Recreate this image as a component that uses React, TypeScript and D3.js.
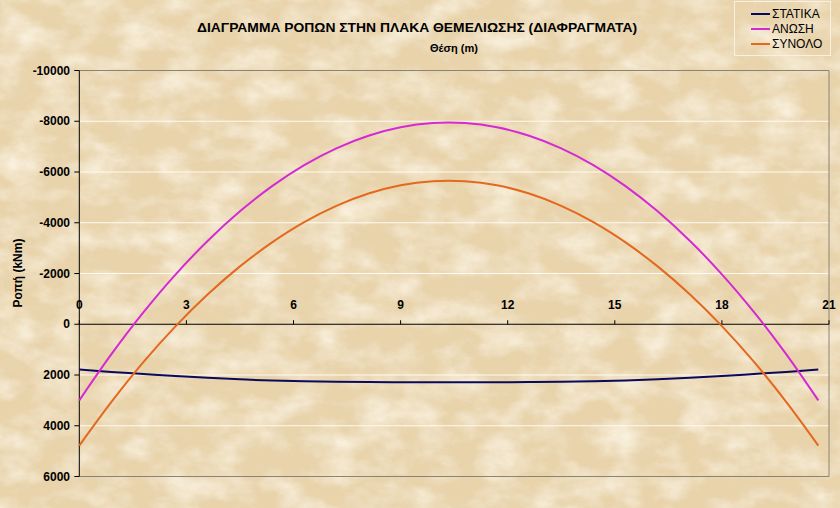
import React from "react";
import * as d3 from "d3";

const positions = [0, 0.9, 1.8, 2.7, 3.6, 4.5, 5.4, 6.3, 7.2, 8.1, 9.0, 9.9, 10.8, 11.7, 12.6, 13.5, 14.4, 15.3, 16.2, 17.1, 18.0, 18.9, 19.8, 20.7];
const statika = [1780, 1880, 1960, 2040, 2110, 2170, 2220, 2250, 2270, 2280, 2285, 2290, 2290, 2285, 2280, 2270, 2250, 2220, 2170, 2110, 2040, 1960, 1880, 1780];
const anosi = [3000, 1179, -477, -1967, -3291, -4450, -5444, -6272, -6934, -7430, -7762, -7927, -7927, -7762, -7430, -6934, -6272, -5444, -4450, -3291, -1967, -477, 1179, 3000];
const synolo = [4780, 3059, 1483, 73, -1181, -2280, -3224, -4022, -4664, -5150, -5477, -5637, -5637, -5477, -5150, -4664, -4022, -3224, -2280, -1181, 73, 1483, 3059, 4780];
const seriesNames = ["ΣΤΑΤΙΚΑ", "ΑΝΩΣΗ", "ΣΥΝΟΛΟ"];
const seriesColors = ["#0a0a5c", "#d42ad4", "#e2691e"];
const xTicks = [0, 3, 6, 9, 12, 15, 18, 21];
const yTicks = [-10000, -8000, -6000, -4000, -2000, 0, 2000, 4000, 6000];
const title = "ΔΙΑΓΡΑΜΜΑ ΡΟΠΩΝ ΣΤΗΝ ΠΛΑΚΑ ΘΕΜΕΛΙΩΣΗΣ (ΔΙΑΦΡΑΓΜΑΤΑ)";
const xTitle = "Θέση (m)";
const yTitle = "Ροπή (kNm)";

export default function App() {
  const W = 840, H = 508;
  const x = d3.scaleLinear().domain([0, 21]).range([79.3, 829]);
  const y = d3.scaleLinear().domain([-10000, 6000]).range([70.5, 476.5]);
  const allSeries = [statika, anosi, synolo];
  const line = d3.line<[number, number]>().x(d => x(d[0])).y(d => y(d[1])).curve(d3.curveCatmullRom);
  const font = "'Liberation Sans', Arial, sans-serif";
  return (
    <svg width={W} height={H} style={{ position: "absolute", left: 0, top: 0 }} fontFamily={font}>
      <defs>
        <filter id="light" x="0" y="0" width="100%" height="100%">
          <feTurbulence type="fractalNoise" baseFrequency="0.025 0.04" numOctaves={5} seed={3} />
          <feColorMatrix type="matrix" values="0 0 0 0 0.98  0 0 0 0 0.93  0 0 0 0 0.82  1.6 0 0 0 -0.62" />
        </filter>
        <filter id="dark" x="0" y="0" width="100%" height="100%">
          <feTurbulence type="fractalNoise" baseFrequency="0.035 0.05" numOctaves={5} seed={11} />
          <feColorMatrix type="matrix" values="0 0 0 0 0.82  0 0 0 0 0.68  0 0 0 0 0.47  0 -1.6 0 0 0.72" />
        </filter>
      </defs>
      <rect x={0} y={0} width={W} height={H} fill="#e8d3ab" />
      <rect x={0} y={0} width={W} height={H} filter="url(#light)" />
      <rect x={0} y={0} width={W} height={H} filter="url(#dark)" opacity={0.7} />

      {/* grid */}
      {yTicks.filter(t => t !== -10000 && t !== 6000 && t !== 0).map(t => (
        <line key={t} x1={x(0)} x2={x(21)} y1={y(t)} y2={y(t)} stroke="#fffaf0" strokeWidth={1} />
      ))}
      {/* plot border */}
      <path d={`M${x(0)},${y(-10000)}H${x(21)}V${y(6000)}H${x(0)}`} fill="none" stroke="#8a8478" strokeWidth={1} />

      {/* y axis */}
      <line x1={x(0)} x2={x(0)} y1={y(-10000)} y2={y(6000)} stroke="#000" strokeWidth={1} />
      {yTicks.map(t => (
        <g key={t}>
          <line x1={x(0) - 5} x2={x(0)} y1={y(t)} y2={y(t)} stroke="#000" />
          <text x={70} y={y(t)} dy="0.35em" textAnchor="end" fontSize={12} fontWeight="bold" fill="#000">{t}</text>
        </g>
      ))}
      {/* x axis at 0 */}
      <line x1={x(0)} x2={x(21)} y1={y(0)} y2={y(0)} stroke="#000" strokeWidth={1} />
      {xTicks.map(t => (
        <g key={t}>
          <line x1={x(t)} x2={x(t)} y1={y(0) - 4} y2={y(0)} stroke="#000" />
          <text x={x(t)} y={y(0) - 19} dy="0.35em" textAnchor="middle" fontSize={12} fontWeight="bold" fill="#000">{t}</text>
        </g>
      ))}

      {/* series */}
      {allSeries.map((s, i) => (
        <path key={i} d={line(positions.map((p, j) => [p, s[j]] as [number, number])) || ""} fill="none" stroke={seriesColors[i]} strokeWidth={2} />
      ))}

      {/* titles */}
      <text x={417} y={32} textAnchor="middle" fontSize={13} fontWeight="bold" fill="#000" textLength={440} lengthAdjust="spacingAndGlyphs">{title}</text>
      <text x={454} y={52} textAnchor="middle" fontSize={11} fontWeight="bold" fill="#000">{xTitle}</text>
      <text transform="translate(22,273) rotate(-90)" textAnchor="middle" fontSize={12} fontWeight="bold" fill="#000">{yTitle}</text>

      {/* legend */}
      <rect x={734.5} y={1.5} width={96} height={54} fill="none" stroke="#f8f0e0" strokeWidth={1} />
      {seriesNames.map((n, i) => (
        <g key={n}>
          <line x1={751} x2={770} y1={14 + i * 15} y2={14 + i * 15} stroke={seriesColors[i]} strokeWidth={2} />
          <text x={772} y={14 + i * 15} dy="0.35em" fontSize={12} fill="#000">{n}</text>
        </g>
      ))}
    </svg>
  );
}
